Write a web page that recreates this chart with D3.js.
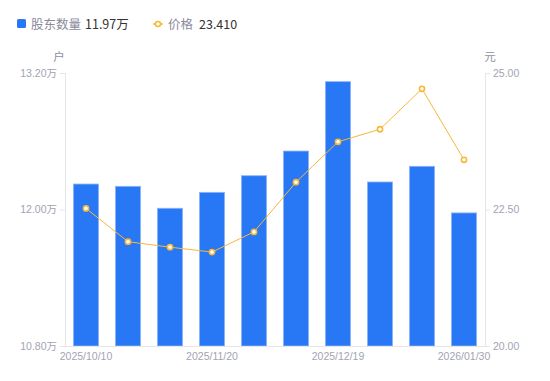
<!DOCTYPE html>
<html><head><meta charset="utf-8">
<script src="https://cdn.jsdelivr.net/npm/d3@7/dist/d3.min.js"></script>
<style>
html,body{margin:0;padding:0;background:#fff;}
svg{display:block;font-family:"Liberation Sans","Noto Sans CJK SC",sans-serif;}
</style></head>
<body>
<svg id="chart" width="550" height="381"></svg>
<script>
const dates = ["2025/10/10","2025/10/20","2025/10/31","2025/11/20","2025/11/28","2025/12/10","2025/12/19","2025/12/31","2026/01/20","2026/01/30"];
const holders = [12.224, 12.204, 12.011, 12.151, 12.297, 12.514, 13.124, 12.242, 12.380, 11.970];
const prices = [22.52, 21.91, 21.81, 21.72, 22.09, 23.00, 23.74, 23.97, 24.71, 23.41];
const leftTicks = [10.8, 12.0, 13.2];
const rightTicks = [20, 22.5, 25];
const shownDates = ["2025/10/10","2025/11/20","2025/12/19","2026/01/30"];

const svg = d3.select("#chart");
const L = 65, R = 485, T = 73, B = 346;
const axisColor = "#e6e6e6", tickText = "#a3a3b3";

const x = d3.scaleBand().domain(dates).range([L, R]).paddingInner(0.4).paddingOuter(0.2);
const yL = d3.scaleLinear().domain([10.8, 13.2]).range([B, T]);
const yR = d3.scaleLinear().domain([20, 25]).range([B, T]);

// bars
svg.append("g").selectAll("rect").data(holders).join("rect")
  .attr("x", (d,i) => x(dates[i]))
  .attr("y", d => yL(d))
  .attr("width", x.bandwidth())
  .attr("height", d => B - yL(d))
  .attr("fill", "#2878f5")
  .attr("stroke", "#8db6fa").attr("stroke-width", 0.8);

// axes
const gL = svg.append("g").attr("transform", `translate(${L},0)`)
  .call(d3.axisLeft(yL).tickValues(leftTicks).tickSize(5).tickPadding(3).tickFormat(d => d3.format(".2f")(d) + "万"));
const gR = svg.append("g").attr("transform", `translate(${R},0)`)
  .call(d3.axisRight(yR).tickValues(rightTicks).tickSize(5).tickPadding(3).tickFormat(d3.format(".2f")));
const gX = svg.append("g").attr("transform", `translate(0,${B})`)
  .call(d3.axisBottom(x).tickValues(shownDates).tickSize(0).tickPadding(7));
[gL, gR, gX].forEach(g => {
  g.select(".domain").attr("stroke", axisColor);
  g.selectAll(".tick line").attr("stroke", axisColor);
  g.selectAll(".tick text").attr("fill", tickText).attr("font-size", 10.5)
    .attr("font-family", '"Liberation Sans","Noto Sans CJK SC",sans-serif');
});
gX.select(".domain").attr("d", `M${L},0.5H${R}`);

// units
svg.append("text").attr("x", 59).attr("y", 61).attr("text-anchor", "middle")
  .attr("fill", "#8f8f9f").attr("font-size", 11.5).attr("font-family", '"Noto Sans CJK SC",sans-serif').text("户");
svg.append("text").attr("x", 490).attr("y", 61).attr("text-anchor", "middle")
  .attr("fill", "#8f8f9f").attr("font-size", 11.5).attr("font-family", '"Noto Sans CJK SC",sans-serif').text("元");

// line
const lineColor = "#f7b83a";
const line = d3.line().x((d,i) => x(dates[i]) + x.bandwidth()/2).y(d => yR(d));
svg.append("path").datum(prices).attr("d", line).attr("fill", "none")
  .attr("stroke", lineColor).attr("stroke-width", 1);
svg.append("g").selectAll("circle").data(prices).join("circle")
  .attr("cx", (d,i) => x(dates[i]) + x.bandwidth()/2)
  .attr("cy", d => yR(d)).attr("r", 2.6)
  .attr("fill", "#fff").attr("stroke", lineColor).attr("stroke-width", 1.6);

// legend
const lg = svg.append("g").attr("font-size", 12.5).attr("font-family", '"Noto Sans CJK SC","Liberation Sans",sans-serif');
lg.append("rect").attr("x", 17).attr("y", 19).attr("width", 9).attr("height", 9).attr("rx", 1.5).attr("fill", "#2878f5");
lg.append("text").attr("x", 31).attr("y", 28.5).attr("fill", "#8a8a9a").text("股东数量");
lg.append("text").attr("x", 85).attr("y", 28.5).attr("fill", "#333").text(d3.format(".2f")(holders[holders.length-1]) + "万");
lg.append("line").attr("x1", 153).attr("x2", 163).attr("y1", 24).attr("y2", 24).attr("stroke", lineColor).attr("stroke-width", 1.5);
lg.append("circle").attr("cx", 158).attr("cy", 24).attr("r", 2.5).attr("fill", "#fff").attr("stroke", lineColor).attr("stroke-width", 1.6);
lg.append("text").attr("x", 168).attr("y", 28.5).attr("fill", "#8a8a9a").text("价格");
lg.append("text").attr("x", 199).attr("y", 28.5).attr("fill", "#333").text(d3.format(".3f")(prices[prices.length-1]));
</script>
</body></html>
